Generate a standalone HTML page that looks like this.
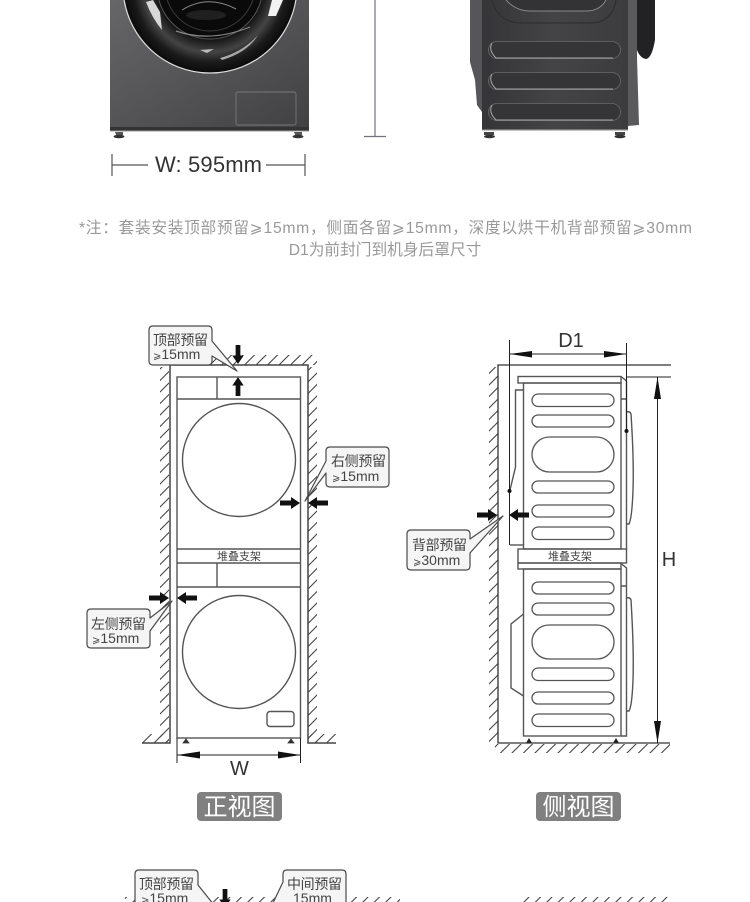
<!DOCTYPE html>
<html lang="zh">
<head>
<meta charset="utf-8">
<style>
html,body{margin:0;padding:0;background:#fff;width:750px;height:902px;overflow:hidden}
svg{display:block;filter:blur(.3px)}
text{font-family:"Liberation Sans","Noto Sans CJK SC",sans-serif}
.ln{fill:none;stroke:#555;stroke-width:1.400}
.wl{fill:none;stroke:#444;stroke-width:1.500}
.bl{fill:none;stroke:#222;stroke-width:1}
.call{fill:#f5f5f5;stroke:#4a4a4a;stroke-width:1.200;stroke-linejoin:round}
.ct{font-size:14px;fill:#444}
.sm{font-size:11px;fill:#444}
.lab{font-size:24px;fill:#fff;text-anchor:middle}
.dim{font-size:20px;fill:#333;text-anchor:middle}
.ov{fill:#fff;stroke:#555;stroke-width:1.300}
</style>
</head>
<body>
<svg width="750" height="902" viewBox="0 0 750 902" xmlns="http://www.w3.org/2000/svg">
<defs>
<pattern id="h" patternUnits="userSpaceOnUse" width="11.5" height="11.5">
<path d="M-1 12.500L12.500 -1" stroke="#444" stroke-width="1.100" fill="none"/>
<path d="M-1 1L1 -1M10.500 12.500L12.500 10.500" stroke="#444" stroke-width="1.100" fill="none"/>
</pattern>
<linearGradient id="body" x1="0" y1="0" x2="1" y2="1">
<stop offset="0" stop-color="#666668"/><stop offset=".45" stop-color="#565658"/><stop offset="1" stop-color="#414143"/>
</linearGradient>
<linearGradient id="side" x1="0" y1="0" x2="1" y2="0">
<stop offset="0" stop-color="#353537"/><stop offset=".5" stop-color="#444446"/><stop offset="1" stop-color="#3c3c3e"/>
</linearGradient>
<radialGradient id="door" gradientUnits="userSpaceOnUse" cx="210" cy="-14" r="87">
<stop offset="0" stop-color="#050505"/><stop offset=".62" stop-color="#161616"/><stop offset=".76" stop-color="#444"/><stop offset=".88" stop-color="#1a1a1a"/><stop offset="1" stop-color="#0a0a0a"/>
</radialGradient>
<path id="ar" d="M0 -2.500H11V-6L20 0L11 6V2.500H0Z" fill="#111"/>
</defs>

<!-- front washer -->
<rect x="110" y="0" width="199" height="128" fill="url(#body)"/>
<rect x="110" y="127" width="199" height="4" fill="#333"/>
<rect x="110" y="130.500" width="199" height="1" fill="#999"/>
<circle cx="210" cy="-14" r="87" fill="url(#door)" stroke="#ddd" stroke-width="1.200"/>
<circle cx="210" cy="-14" r="53" fill="#0a0a0a" stroke="#555"/>
<circle cx="210" cy="-14" r="45" fill="none" stroke="#3a3a3a"/>
<path d="M182 10Q208 -6 236 9" fill="none" stroke="#888" stroke-width="1"/>
<ellipse cx="206" cy="15" rx="20" ry="5" fill="#202020"/>
<path d="M176 31Q210 43 250 27" fill="none" stroke="#888" stroke-width="1.200"/>
<path d="M200 50L214 49L207 53Z" fill="#bbb"/>
<path d="M146 2Q152 18 162 30L160 12L153 0Z" fill="#d8d8d8"/>
<path d="M268 16L272 0L283 0L276 16Z" fill="#f2f2f2"/>
<path d="M222 60Q248 52 258 35Q243 52 220 58Z" fill="#aaa"/>
<rect x="236" y="92" width="60" height="33" rx="2" fill="none" stroke="#777" stroke-width=".9"/>
<path d="M115 132h8v3h-2v2h-4z" fill="#555"/><ellipse cx="119" cy="136.500" rx="5.500" ry="1.800" fill="#333"/>
<path d="M294 132h8v3h-2v2h-4z" fill="#555"/><ellipse cx="298" cy="136.500" rx="5.500" ry="1.800" fill="#333"/>

<!-- W dim -->
<path d="M112 154V176M305 154V176M112 165H148M266 165H305" stroke="#555" stroke-width="1.200" fill="none"/>
<text x="155" y="172" font-size="22" fill="#333" textLength="107">W: 595mm</text>
<!-- H dim -->
<path d="M375 0V136M364 136.500H386" stroke="#72727e" stroke-width="1.200" fill="none"/>

<!-- side washer -->
<path d="M470 0H482V112L477 105L475 80L470 62Z" fill="#55555a"/>
<path d="M637 0H655L655 40Q652 58 646 59Q640 58 637 50Z" fill="#222224"/>
<rect x="482" y="0" width="146" height="130" fill="url(#side)"/>
<path d="M628 0H637V58L639 125L628 126Z" fill="#5a5a5c"/>
<rect x="482" y="129.500" width="146" height="1.200" fill="#aaa"/>
<path d="M492 0Q498 23 522 23H590Q612 23 616 0" fill="none" stroke="#2c2c2c" stroke-width="1"/>
<path d="M506 0Q516 11 530 11H586Q600 11 606 0" fill="#333335" stroke="#888" stroke-width="1"/>
<g fill="#353537" stroke="#6a6a6c" stroke-width=".8">
<rect x="488.500" y="41.500" width="132" height="17" rx="8.500"/>
<rect x="488.500" y="72.500" width="132" height="17" rx="8.500"/>
<rect x="488.500" y="103.500" width="132" height="17" rx="8.500"/>
</g>
<g fill="none" stroke="#a8a8a8" stroke-width="1">
<path d="M492 43Q488 50 496 58H613"/>
<path d="M492 74Q488 81 496 89H613"/>
<path d="M492 105Q488 112 496 120H613"/>
</g>
<path d="M484 132h10v3h-3v2h-4v-2h-3z" fill="#444"/><ellipse cx="489.500" cy="136.500" rx="5.500" ry="1.800" fill="#333"/>
<path d="M615 132h10v3h-3v2h-4v-2h-3z" fill="#444"/><ellipse cx="620" cy="136.500" rx="5.500" ry="1.800" fill="#333"/>

<!-- note -->
<text x="79" y="233" font-size="15.700" fill="#999" textLength="613" lengthAdjust="spacing">*注：套装安装顶部预留⩾15mm，侧面各留⩾15mm，深度以烘干机背部预留⩾30mm</text>
<text x="385" y="255" font-size="15.700" fill="#999" text-anchor="middle">D1为前封门到机身后罩尺寸</text>

<!-- FRONT VIEW -->
<rect x="160" y="367" width="9" height="376" fill="url(#h)"/>
<rect x="308" y="367" width="9" height="376" fill="url(#h)"/>
<rect x="160" y="355" width="157" height="10" fill="url(#h)"/>
<rect x="142" y="734" width="27" height="9" fill="url(#h)"/>
<rect x="308" y="734" width="28" height="9" fill="url(#h)"/>
<path class="wl" d="M142 743H170V365H308V743H336"/>
<rect class="ln" x="177" y="377" width="123.500" height="361"/>
<path class="ln" d="M177 399H300.500M217 377V399M177 549H300.500M177 563H300.500M217 563V587M177 587H300.500"/>
<circle class="ln" cx="239" cy="460" r="56.500"/>
<circle class="ln" cx="239" cy="652" r="56.500"/>
<text class="sm" x="239" y="560" text-anchor="middle">堆叠支架</text>
<rect class="ln" x="267" y="711.500" width="27" height="15" rx="3"/>
<path d="M186 738v3M183 743h6l-3 -4zM291 738v3M288 743h6l-3 -4z" fill="#333" stroke="#333" stroke-width=".8"/>
<path class="bl" d="M177 738V763M300.500 738V763M177 755H300.500"/>
<path d="M177 755L200 751.500V758.500ZM300.500 755L278 751.500V758.500Z" fill="#111"/>
<text class="dim" x="239.500" y="775">W</text>

<!-- front callouts -->
<path class="call" d="M153 326H208Q212 326 212 330V341L237 371L212 356V361Q212 365 208 365H153Q149 365 149 361V330Q149 326 153 326Z"/>
<text class="ct" x="153" y="345" textLength="55">顶部预留</text>
<text class="ct" x="153" y="359" font-size="15"><tspan font-size="10">⩾</tspan>15mm</text>
<use href="#ar" transform="translate(238 345) rotate(90) scale(.95)"/>
<use href="#ar" transform="translate(238 396) rotate(-90) scale(.95)"/>

<path class="call" d="M330 447H385Q389 447 389 451V483Q389 487 385 487H330Q326 487 326 483V473L305 501L326 461V451Q326 447 330 447Z"/>
<text class="ct" x="331" y="466" textLength="55">右侧预留</text>
<text class="ct" x="332" y="481"><tspan font-size="10">⩾</tspan>15mm</text>
<use href="#ar" transform="translate(280 503)"/>
<use href="#ar" transform="translate(328 503) rotate(180)"/>

<path class="call" d="M91 609H146Q150 609 150 613V618L172 601L150 631V644Q150 648 146 648H91Q87 648 87 644V613Q87 609 91 609Z"/>
<text class="ct" x="91" y="629" textLength="55">左侧预留</text>
<text class="ct" x="92" y="643"><tspan font-size="10">⩾</tspan>15mm</text>
<use href="#ar" transform="translate(149 598)"/>
<use href="#ar" transform="translate(197 598) rotate(180)"/>

<rect x="197" y="792" width="85" height="29" rx="4" fill="#808080"/>
<text class="lab" x="239.500" y="815">正视图</text>

<!-- SIDE VIEW -->
<rect x="489" y="367" width="9" height="376" fill="url(#h)"/>
<rect x="495" y="744" width="175" height="9" fill="url(#h)"/>
<path class="bl" style="stroke:#333;stroke-width:1.300" d="M671 365H498V743H670"/>
<path class="bl" d="M626.500 377H671"/>
<rect class="ln" x="518" y="376.500" width="103" height="6.500"/>
<rect class="ln" x="523.500" y="383" width="97.500" height="166"/>
<path class="ln" d="M621 376.500L626.500 381V399H621M626.500 399V549"/>
<path class="ln" d="M523 390H515.500V467L510 490"/>
<path class="ln" d="M510 545H523.500"/>
<path class="ln" d="M626.500 412Q630 411 631 414Q634 460 633 490Q632 518 629 524H626.500"/>
<g class="ov">
<rect x="532" y="394" width="82" height="12.500" rx="6.250"/>
<rect x="532" y="415" width="82" height="12" rx="6"/>
<rect x="532" y="437" width="82" height="35" rx="17.500"/>
<rect x="532" y="481" width="82" height="12" rx="6"/>
<rect x="532" y="505" width="82" height="12" rx="6"/>
<rect x="532" y="527" width="82" height="12.500" rx="6.250"/>
</g>
<rect class="ln" x="518" y="549" width="108.500" height="14"/>
<rect class="ln" x="518" y="563" width="103" height="6"/>
<text class="sm" x="570" y="560" text-anchor="middle">堆叠支架</text>
<rect class="ln" x="523.500" y="569" width="97.500" height="167"/>
<path class="ln" d="M621 563.500L626.500 568V736H621M621 586H626.500"/>
<path class="ln" d="M523.500 614L511 624V688L523.500 696"/>
<path class="ln" d="M626.500 598Q630 597 631 600Q634 650 633 680Q632 706 629 711H626.500"/>
<g class="ov">
<rect x="532" y="582" width="82" height="12" rx="6"/>
<rect x="532" y="603" width="82" height="12" rx="6"/>
<rect x="532" y="625" width="82" height="34" rx="17"/>
<rect x="532" y="668" width="82" height="12.500" rx="6.250"/>
<rect x="532" y="692" width="82" height="12" rx="6"/>
<rect x="532" y="714" width="82" height="12.500" rx="6.250"/>
</g>
<path d="M526 743h6l-3 -5zM613 743h6l-3 -5z" fill="#222"/>
<path class="bl" d="M509.500 340V545M626.500 343V431M509.500 354H626.500M657.500 377V743"/>
<path d="M509.500 354L532 351V357.500ZM626.500 354L604 351V357.500ZM657.500 377L654 399H661ZM657.500 743L654 721H661Z" fill="#111"/>
<circle cx="509.500" cy="491" r="2" fill="#111"/>
<circle cx="626.500" cy="431" r="2" fill="#111"/>
<text class="dim" x="571" y="347">D1</text>
<text class="dim" x="669" y="566">H</text>

<path class="call" d="M411 530H466Q470 530 470 534V539L503 516L470 553V566Q470 570 466 570H411Q407 570 407 566V534Q407 530 411 530Z"/>
<text class="ct" x="412" y="550" textLength="55">背部预留</text>
<text class="ct" x="413" y="565"><tspan font-size="10">⩾</tspan>30mm</text>
<use href="#ar" transform="translate(477 515)"/>
<use href="#ar" transform="translate(529 515) rotate(180)"/>

<rect x="536" y="792" width="85" height="29" rx="4" fill="#808080"/>
<text class="lab" x="578.500" y="815">侧视图</text>

<!-- bottom fragment -->
<rect x="125" y="897" width="10" height="5" fill="url(#h)"/>
<rect x="198" y="897" width="85" height="5" fill="url(#h)"/>
<rect x="346" y="897" width="54" height="5" fill="url(#h)"/>
<rect x="520" y="897" width="150" height="5" fill="url(#h)"/>
<path class="call" d="M139 870H194Q198 870 198 874V885L214 905H135V874Q135 870 139 870Z"/>
<text class="ct" x="139" y="889" textLength="55">顶部预留</text>
<text class="ct" x="141" y="903"><tspan font-size="10">⩾</tspan>15mm</text>
<path class="call" d="M287 870H342Q346 870 346 874V905H272L283 882V874Q283 870 287 870Z"/>
<text class="ct" x="287" y="889" textLength="55">中间预留</text>
<text class="ct" x="293" y="903">15mm</text>
<use href="#ar" transform="translate(225 889) rotate(90) scale(.95)"/>
</svg>
</body>
</html>
